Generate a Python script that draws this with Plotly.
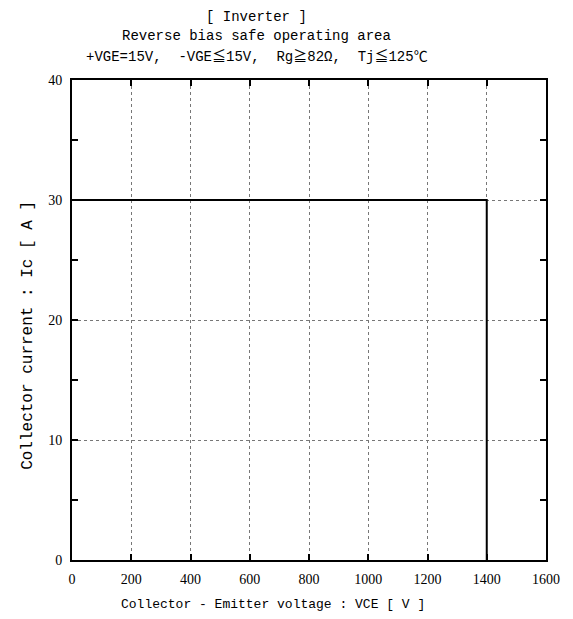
import plotly.graph_objects as go

# safe operating area boundary (VCE [V], Ic [A])
vce = [0, 1400, 1400]
ic = [30, 30, 0]

x_ticks = [0, 200, 400, 600, 800, 1000, 1200, 1400, 1600]
y_ticks = [0, 10, 20, 30, 40]

title_lines = [
    "[ Inverter ]",
    "Reverse bias safe operating area",
    "+VGE=15V,  -VGE≦15V,  Rg≧82Ω,  Tj≦125℃",
]
x_title = "Collector - Emitter voltage : VCE [ V ]"
y_title = "Collector current : Ic [ A ]"

text_font = "Liberation Mono, Noto Sans CJK JP, monospace"
num_font = "Liberation Serif, serif"

fig = go.Figure()

fig.add_trace(
    go.Scatter(
        x=vce,
        y=ic,
        mode="lines",
        line=dict(color="black", width=2),
        showlegend=False,
        hoverinfo="skip",
    )
)

# the page body adds an 8px offset, so the figure is a bit smaller than the window
fig.update_layout(
    width=565,
    height=611,
    margin=dict(l=64, r=27, t=72, b=59, autoexpand=False),
    paper_bgcolor="white",
    plot_bgcolor="white",
    font=dict(family=num_font, color="black", size=14),
)

# title lines placed one by one
for txt, shift in zip(title_lines, [63, 44, 23]):
    fig.add_annotation(
        text=txt,
        xref="paper",
        yref="paper",
        x=0.39,
        y=1,
        yshift=shift,
        yanchor="middle",
        showarrow=False,
        font=dict(family=text_font, size=14),
    )

fig.add_annotation(
    text=x_title,
    xref="paper",
    yref="paper",
    x=0.425,
    y=0,
    yshift=-44,
    yanchor="middle",
    showarrow=False,
    font=dict(family=text_font, size=13),
)

fig.add_annotation(
    text=y_title,
    xref="paper",
    yref="paper",
    x=0,
    xshift=-44,
    y=0.467,
    textangle=-90,
    xanchor="center",
    yanchor="middle",
    showarrow=False,
    font=dict(family=text_font, size=16),
)

fig.update_xaxes(
    range=[0, 1600],
    tickvals=x_ticks,
    ticks="inside",
    ticklen=6,
    tickwidth=1.5,
    tickcolor="black",
    ticklabelstandoff=5,
    showline=True,
    linecolor="black",
    linewidth=2,
    mirror="ticks",
    showgrid=True,
    gridcolor="#777777",
    griddash="dot",
    gridwidth=1,
    zeroline=False,
    tickfont=dict(size=14),
)

fig.update_yaxes(
    range=[0, 40],
    tickvals=y_ticks,
    ticks="inside",
    ticklen=6,
    tickwidth=1.5,
    tickcolor="black",
    ticklabelstandoff=5,
    minor=dict(dtick=5, ticks="inside", ticklen=6, tickcolor="black", showgrid=False),
    showline=True,
    linecolor="black",
    linewidth=2,
    mirror="ticks",
    showgrid=True,
    gridcolor="#777777",
    griddash="dot",
    gridwidth=1,
    zeroline=False,
    tickfont=dict(size=14),
)

fig.write_html("out.html")
